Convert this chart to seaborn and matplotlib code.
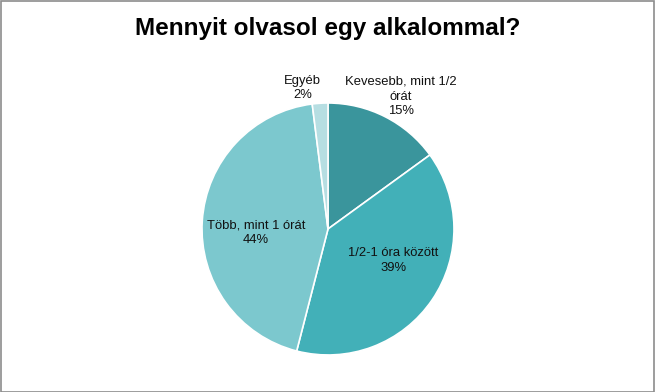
import matplotlib
matplotlib.use("Agg")
import matplotlib.pyplot as plt
import seaborn as sns
from matplotlib.patches import Rectangle

sns.set_theme(style="white")
plt.rcParams['font.family'] = ['Liberation Sans', 'DejaVu Sans']

categories = ["Kevesebb, mint 1/2\nórát", "1/2-1 óra között", "Több, mint 1 órát", "Egyéb"]
values = [15, 39, 44, 2]
colors = ["#3A959C", "#42B0B8", "#7CC8CE", "#B6DEE2"]
# label anchor offsets (data units, relative to pie center)
label_pos = [(0.58, 1.05), (0.52, -0.25), (-0.57, -0.03), (-0.20, 1.12)]

fig = plt.figure(figsize=(6.55, 3.92), dpi=100)
ax = fig.add_axes([0.3084, 0.0944, 0.3847, 0.6429])
wedges, _ = ax.pie(values, colors=colors, startangle=90, counterclock=False,
                   radius=1.0, wedgeprops=dict(linewidth=1.2, edgecolor="white"))
ax.set_xlim(-1, 1)
ax.set_ylim(-1, 1)
ax.set_aspect("equal")
ax.axis("off")

for cat, v, (x, y) in zip(categories, values, label_pos):
    ax.text(x, y, f"{cat}\n{v}%", ha="center", va="center", fontsize=9.4,
            color="#111111", linespacing=1.3, clip_on=False)

fig.text(0.5, 1 - 28 / 392, "Mennyit olvasol egy alkalommal?", ha="center", va="center",
         fontsize=17.5, fontweight="bold", color="black")

fig.patches.append(Rectangle((0.5 / 655, 0.5 / 392), 1 - 1.5 / 655, 1 - 1.5 / 392,
                             transform=fig.transFigure, fill=False,
                             edgecolor="#8C8C8C", linewidth=1.2))

fig.savefig("out.png", dpi=100)
